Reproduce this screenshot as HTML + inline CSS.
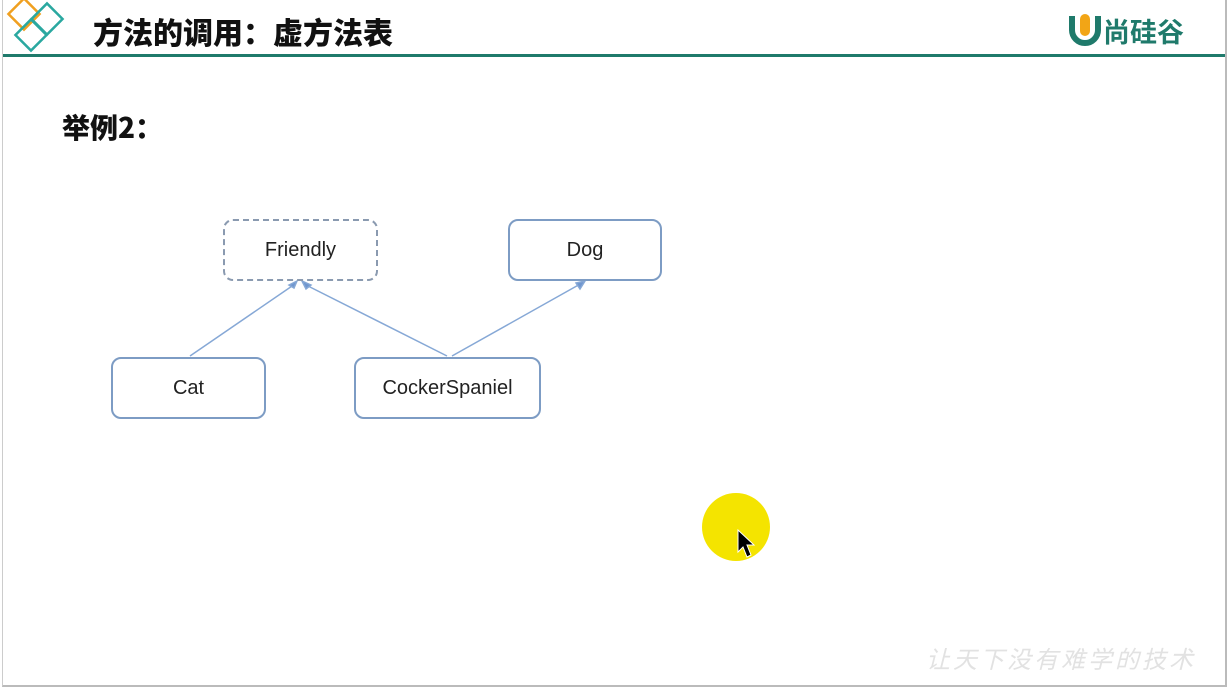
<!DOCTYPE html>
<html><head><meta charset="utf-8"><style>
body{margin:0;width:1229px;height:689px;background:#fff;position:relative;overflow:hidden;font-family:"Liberation Sans","Noto Sans CJK SC",sans-serif}
.frame{position:absolute;left:2px;top:0;width:1222px;height:685px;border-left:1px solid #ccc;border-right:2px solid #bbb;border-bottom:2px solid #bbb}
.title{position:absolute;left:93px;top:9px;font-size:30px;font-weight:900;color:#111;letter-spacing:0px;font-family:"Noto Sans CJK SC",sans-serif}
.bar{position:absolute;left:3px;top:54px;width:1222px;height:3px;background:#1f7a6b}
.box{position:absolute;border:2px solid #7d9cc4;border-radius:10px;box-sizing:border-box;display:flex;align-items:center;justify-content:center;font-size:20px;color:#222}
</style></head><body>
<div class="frame"></div>
<svg style="position:absolute;left:0;top:0" width="80" height="56">
<rect x="13" y="3" width="22" height="22" transform="rotate(45 24 14)" fill="none" stroke="#f0a020" stroke-width="2.5"/>
<rect x="36" y="8" width="22" height="22" transform="rotate(45 47 19)" fill="none" stroke="#2aa8a0" stroke-width="2.5"/>
<rect x="20" y="24" width="22" height="22" transform="rotate(45 31 35)" fill="none" stroke="#2aa8a0" stroke-width="2.5"/>
</svg>
<div class="title">方法的调用：虚方法表</div>
<svg style="position:absolute;left:1068px;top:10px" width="34" height="36">
<path d="M4 6 V20 A13 13 0 0 0 30 20 V6" fill="none" stroke="#1f7a6b" stroke-width="6"/>
<rect x="12" y="4" width="10" height="22" rx="5" fill="#f2a516"/>
</svg>
<div style="position:absolute;left:1103px;top:11px;font-size:27px;font-weight:bold;color:#1f7a6b">尚硅谷</div>
<div class="bar"></div>
<div style="position:absolute;left:62px;top:107px;font-size:28px;font-weight:900;color:#111;font-family:'Noto Sans CJK SC',sans-serif">举例2：</div>
<svg style="position:absolute;left:0;top:0" width="1229" height="689">
<g stroke="#86a8d6" stroke-width="1.5" fill="#6f96cf">
<line x1="190" y1="356" x2="295" y2="284"/>
<line x1="447" y1="356" x2="304" y2="284"/>
<line x1="452" y1="356" x2="582" y2="283"/>
<polygon points="297,281 289,285 294,288"/>
<polygon points="302,281 306,289 311,285"/>
<polygon points="585,281 576,283 580,289"/>
</g>
<circle cx="736" cy="527" r="34" fill="#f4e400"/>
<path d="M738 530 L738 552 L743 547 L747 557 L751 555 L747 545 L754 545 Z" fill="#000" stroke="#fff" stroke-width="1"/>
</svg>
<div class="box" style="left:223px;top:219px;width:155px;height:62px;border-style:dashed;border-color:#8a9ab0">Friendly</div>
<div class="box" style="left:508px;top:219px;width:154px;height:62px">Dog</div>
<div class="box" style="left:111px;top:357px;width:155px;height:62px">Cat</div>
<div class="box" style="left:354px;top:357px;width:187px;height:62px">CockerSpaniel</div>
<div style="position:absolute;left:926px;top:640px;font-size:24px;color:#e2e2e2;letter-spacing:3px;font-style:italic">让天下没有难学的技术</div>
</body></html>
